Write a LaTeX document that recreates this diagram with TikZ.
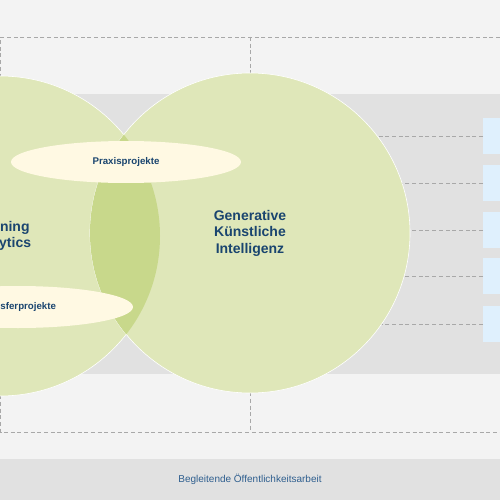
\documentclass[tikz,border=0pt]{standalone}
\usepackage{fontspec}
\setmainfont{Liberation Sans}
\usetikzlibrary{shapes.geometric}
\definecolor{bg}{HTML}{F3F3F3}
\definecolor{band}{HTML}{E1E1E1}
\definecolor{circ}{HTML}{DFE7B9}
\definecolor{lens}{HTML}{C8D88B}
\definecolor{cream}{HTML}{FFF9E3}
\definecolor{boxblue}{HTML}{DFF0FD}
\definecolor{dashgray}{HTML}{A8A8A8}
\definecolor{navy}{HTML}{1A456F}
\definecolor{textblue}{HTML}{2F5F8F}
\tikzset{
  dashline/.style={draw=dashgray, line width=0.9pt, dash pattern=on 4pt off 2.7pt},
  bigcircle/.style={circle, fill=circ, draw=white, line width=0.6pt, minimum size=320pt, inner sep=0pt, text=navy, font=\bfseries\fontsize{14}{16.5}\selectfont, align=center},
  project/.style={ellipse, fill=cream, minimum width=230pt, minimum height=42pt, inner sep=0pt, text=navy, font=\bfseries\fontsize{9.7}{11}\selectfont},
  sidebox/.style={rectangle, fill=boxblue, minimum width=40pt, minimum height=36pt, inner sep=0pt, anchor=north west}
}
\begin{document}
\begin{tikzpicture}[x=1pt,y=-1pt]
\useasboundingbox (0,0) rectangle (500,500);
\clip (0,0) rectangle (500,500);
\fill[bg] (0,0) rectangle (500,500);
\fill[band] (-5,94) rectangle (505,374);
\fill[band] (-5,459) rectangle (505,505);
% dashed frame
\draw[dashline] (520,37) -- (0.5,37) -- (0.5,432) -- (520,432);
\draw[dashline] (250,37) -- (250,432);
% side boxes
\node[sidebox] (b1) at (483,118) {};
\node[sidebox] (b2) at (483,165) {};
\node[sidebox] (b3) at (483,212) {};
\node[sidebox] (b4) at (483,258) {};
\node[sidebox] (b5) at (483,306) {};
\coordinate (gkic) at (250,233);
\foreach \b in {b1,b2,b3,b4,b5}
  \draw[dashline] (\b.west) -- (\b.west -| gkic);
% circles
\node[bigcircle] (la) at (0,236) {Learning\\Analytics};
\node[bigcircle] (gki) at (250,233) {Generative\\Künstliche\\Intelligenz};
\begin{scope}
  \clip (0,236) circle (160pt);
  \fill[lens] (250,233) circle (160pt);
\end{scope}
% projects
\node[project] (praxis) at (126,162) {Praxisprojekte};
\node[project] (transfer) at (18,307) {Transferprojekte};
% bottom text
\node[text=textblue, font=\fontsize{10}{12}\selectfont] (oeff) at (250,479) {Begleitende Öffentlichkeitsarbeit};
\end{tikzpicture}
\end{document}
